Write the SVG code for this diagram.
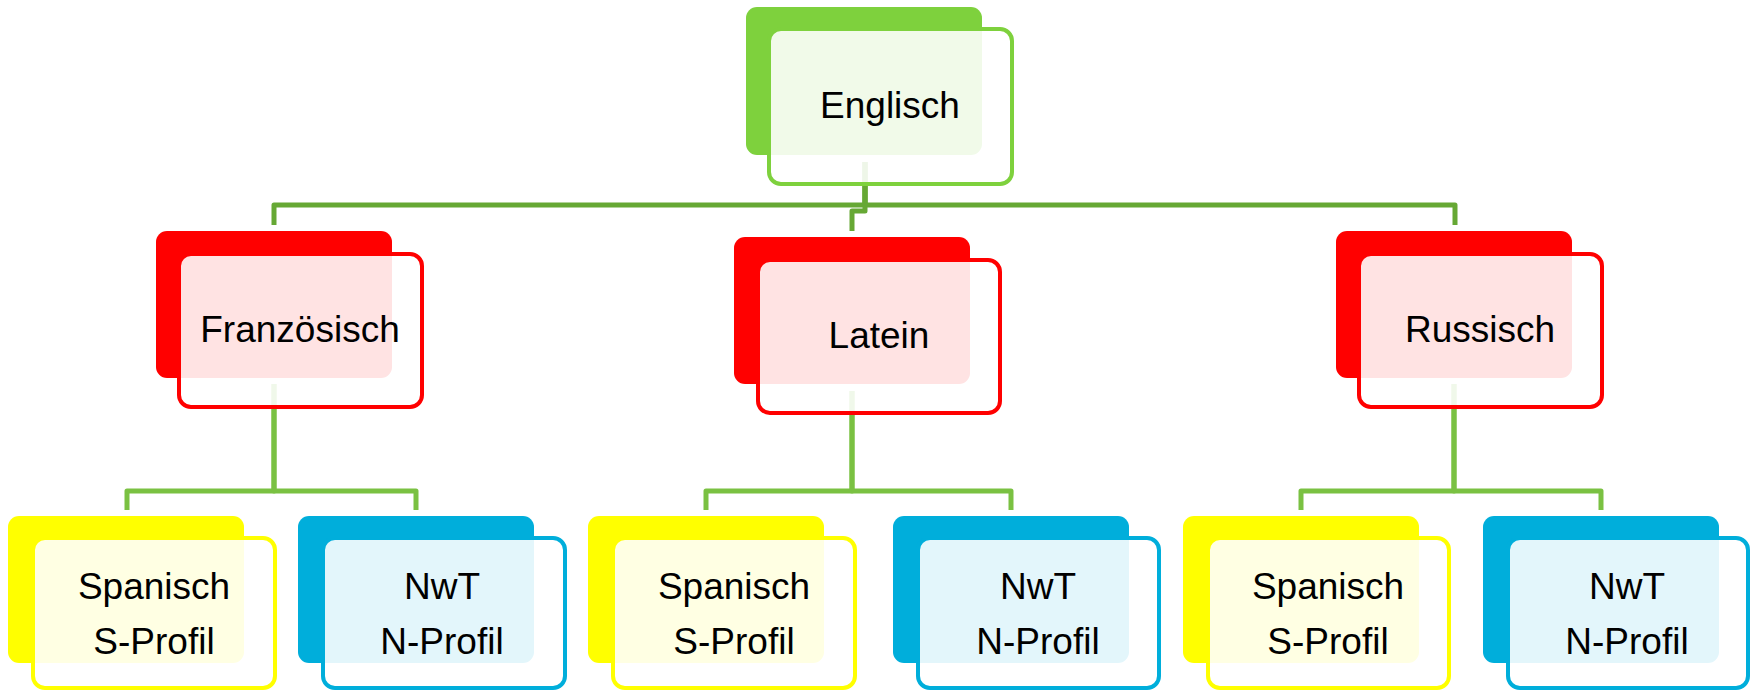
<svg xmlns="http://www.w3.org/2000/svg" width="1752" height="691" viewBox="0 0 1752 691">
<style>
.conn{fill:none;stroke-width:5;stroke-linejoin:round}
.c1{stroke:#66A834}
.c2{stroke:#7AC142}
.front{fill:#FFFFFF;fill-opacity:0.89;stroke-width:4}
.g .back{fill:#7ED13D}.g .front{stroke:#7ED13D}
.r .back{fill:#FF0000}.r .front{stroke:#FF0000}
.y .back{fill:#FFFF00}.y .front{stroke:#FFFF00}
.b .back{fill:#00AEDB}.b .front{stroke:#00AEDB}
text{font-family:"Liberation Sans",Arial,sans-serif;font-size:37px;fill:#000;text-anchor:middle}
</style>
<rect width="1752" height="691" fill="#FFFFFF"/>
<g id="connectors">
<path class="conn c1" d="M865,162 V205 H274 V225"/>
<path class="conn c1" d="M865,162 V205 H1455 V225"/>
<path class="conn c1" d="M865,162 V211 H852 V231"/>
<path class="conn c2" d="M274,384 V491 H127 V510"/>
<path class="conn c2" d="M274,384 V491 H416 V510"/>
<path class="conn c2" d="M852,391 V491 H706 V510"/>
<path class="conn c2" d="M852,391 V491 H1011 V510"/>
<path class="conn c2" d="M1454,384 V491 H1301 V510"/>
<path class="conn c2" d="M1454,384 V491 H1601 V510"/>
</g>
<g id="englisch" class="g">
<rect class="back" x="746" y="7" width="236" height="148" rx="11"/>
<rect class="front" x="769" y="29" width="243" height="155" rx="12"/>
<text x="890" y="118">Englisch</text>
</g>
<g id="franzoesisch" class="r">
<rect class="back" x="156" y="231" width="236" height="147" rx="11"/>
<rect class="front" x="179" y="254" width="243" height="153" rx="12"/>
<text x="300" y="342">Französisch</text>
</g>
<g id="latein" class="r">
<rect class="back" x="734" y="237" width="236" height="147" rx="11"/>
<rect class="front" x="758" y="260" width="242" height="153" rx="12"/>
<text x="879" y="348">Latein</text>
</g>
<g id="russisch" class="r">
<rect class="back" x="1336" y="231" width="236" height="147" rx="11"/>
<rect class="front" x="1359" y="254" width="243" height="153" rx="12"/>
<text x="1480" y="342">Russisch</text>
</g>
<g id="spanisch1" class="y">
<rect class="back" x="8" y="516" width="236" height="147" rx="11"/>
<rect class="front" x="33" y="538" width="242" height="150" rx="12"/>
<text x="154" y="599">Spanisch</text>
<text x="154" y="654">S-Profil</text>
</g>
<g id="nwt1" class="b">
<rect class="back" x="298" y="516" width="236" height="147" rx="11"/>
<rect class="front" x="323" y="538" width="242" height="150" rx="12"/>
<text x="442" y="599">NwT</text>
<text x="442" y="654">N-Profil</text>
</g>
<g id="spanisch2" class="y">
<rect class="back" x="588" y="516" width="236" height="147" rx="11"/>
<rect class="front" x="613" y="538" width="242" height="150" rx="12"/>
<text x="734" y="599">Spanisch</text>
<text x="734" y="654">S-Profil</text>
</g>
<g id="nwt2" class="b">
<rect class="back" x="893" y="516" width="236" height="147" rx="11"/>
<rect class="front" x="918" y="538" width="241" height="150" rx="12"/>
<text x="1038" y="599">NwT</text>
<text x="1038" y="654">N-Profil</text>
</g>
<g id="spanisch3" class="y">
<rect class="back" x="1183" y="516" width="236" height="147" rx="11"/>
<rect class="front" x="1208" y="538" width="241" height="150" rx="12"/>
<text x="1328" y="599">Spanisch</text>
<text x="1328" y="654">S-Profil</text>
</g>
<g id="nwt3" class="b">
<rect class="back" x="1483" y="516" width="236" height="147" rx="11"/>
<rect class="front" x="1508" y="538" width="240" height="150" rx="12"/>
<text x="1627" y="599">NwT</text>
<text x="1627" y="654">N-Profil</text>
</g>
</svg>
